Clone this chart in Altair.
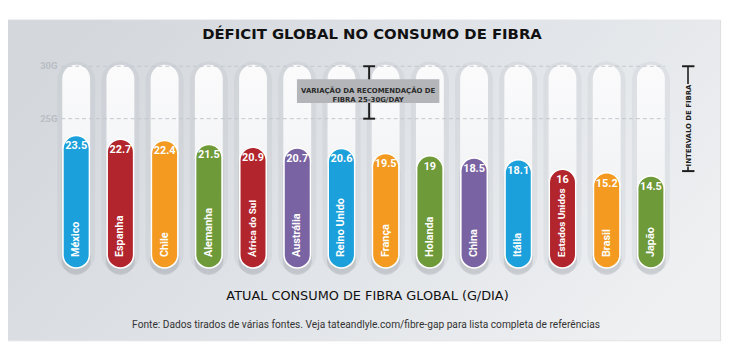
import altair as alt
import pandas as pd

# ---------------- data ----------------
countries = ["México", "Espanha", "Chile", "Alemanha", "África do Sul", "Austrália",
             "Reino Unido", "França", "Holanda", "China", "Itália", "Estados Unidos",
             "Brasil", "Japão"]
values = [23.5, 22.7, 22.4, 21.5, 20.9, 20.7, 20.6, 19.5, 19, 18.5, 18.1, 16, 15.2, 14.5]
palette = ["#1ba0db", "#b3252d", "#f49a20", "#6e9a3a", "#b3252d", "#7a63a3", "#1ba0db",
           "#f49a20", "#6e9a3a", "#7a63a3", "#1ba0db", "#b3252d", "#f49a20", "#6e9a3a"]

rec_levels = [30, 25]
rec_labels = ["30G", "25G"]
range_levels = [30, 20]

TITLE = "DÉFICIT GLOBAL NO CONSUMO DE FIBRA"
X_TITLE = "ATUAL CONSUMO DE FIBRA GLOBAL (G/DIA)"
SOURCE = "Fonte: Dados tirados de várias fontes. Veja tateandlyle.com/fibre-gap para lista completa de referências"
REC_NOTE = "VARIAÇÃO DA RECOMENDAÇÃO DE\nFIBRA 25-30G/DAY"
RANGE_NOTE = "INTERVALO DE FIBRA"

df = pd.DataFrame({"country": countries, "value": values})
grid_df = pd.DataFrame({"level": rec_levels, "label": rec_labels})
range_df = pd.DataFrame({"level": range_levels})
one = pd.DataFrame({"k": [0]})

W, H = 720, 324
bar_scale = alt.Scale(domain=[-22.09, 49.27], nice=False, zero=False)
grid_scale = alt.Scale(domain=[3.87, 34.43], nice=False, zero=False)
BAR_BASE = -6.0
GRID_BASE = 10.75
NARROW = "Roboto, sans-serif"

xaxis = alt.Axis(labels=False, ticks=False, domain=False, grid=False, title=X_TITLE,
                 titleY=-45, titleBaseline="middle", titleFont="DejaVu Sans",
                 titleFontSize=13, titleFontWeight="normal", titleColor="#111111",
                 titleX=363, zindex=1)
xscale = alt.Scale(domain=countries, range=[46.6, 672.4], paddingInner=0, paddingOuter=0)
xenc = alt.X("country:N", sort=countries, scale=xscale, axis=xaxis)


def xd(name):
    return alt.XDatum(name, type="nominal", scale=xscale, axis=xaxis)


bg_grad = alt.LinearGradient(gradient="linear", x1=0, x2=1, y1=0.3, y2=0.7,
                             stops=[alt.GradientStop(color="#d4d8dd", offset=0),
                                    alt.GradientStop(color="#e0e3e7", offset=0.5),
                                    alt.GradientStop(color="#eef0f2", offset=1)])
ghost_grad = alt.LinearGradient(gradient="linear", x1=0, x2=0, y1=0, y2=1,
                                stops=[alt.GradientStop(color="#fbfbfc", offset=0),
                                       alt.GradientStop(color="#f2f3f5", offset=0.6),
                                       alt.GradientStop(color="#e6e8eb", offset=1)])

background = alt.Chart(one).mark_rect(fill=bg_grad).encode(
    x=alt.value(0), x2=alt.value(W), y=alt.value(0), y2=alt.value(H))

base = alt.Chart(df)

ghost_shadow = base.mark_bar(width=alt.RelativeBandSize(0.86), cornerRadius=19,
                             color="#9ea4ac", opacity=0.13).encode(
    x=xenc, y=alt.YDatum(30.45, scale=grid_scale, axis=None), y2=alt.datum(GRID_BASE - 0.5))

ghost = base.mark_bar(width=alt.RelativeBandSize(0.63), cornerRadius=14, fill=ghost_grad).encode(
    x=xenc, y=alt.YDatum(30.15, scale=grid_scale, axis=None), y2=alt.datum(GRID_BASE))

grid = alt.Chart(grid_df).mark_rule(strokeDash=[4, 3], color="#c2c7cd", strokeWidth=1,
                                    xOffset=-15, x2Offset=14).encode(
    x=xd("México"), x2=alt.datum("Japão"),
    y=alt.Y("level:Q", scale=grid_scale, axis=None))

grid_text = alt.Chart(grid_df).mark_text(align="right", baseline="middle", dx=-19,
                                         font=NARROW, fontSize=9.5,
                                         fontWeight="bold", color="#b9bdc4").encode(
    x=xd("México"), y=alt.Y("level:Q", scale=grid_scale, axis=None),
    text="label:N")

bar_shadow = base.mark_bar(width=alt.RelativeBandSize(0.66), cornerRadius=15, color="#6f757e",
                           opacity=0.2, yOffset=3, y2Offset=7).encode(
    x=xenc, y=alt.Y("value:Q", scale=bar_scale, axis=None), y2=alt.datum(BAR_BASE))

bars = base.mark_bar(width=alt.RelativeBandSize(0.6), cornerRadius=13.5, stroke="white",
                     strokeWidth=1.6).encode(
    x=xenc, y=alt.Y("value:Q", scale=bar_scale, axis=None), y2=alt.datum(BAR_BASE),
    color=alt.Color("country:N", scale=alt.Scale(domain=countries, range=palette), legend=None))

value_text = base.mark_text(baseline="middle", dy=11, font=NARROW,
                            fontSize=11, fontWeight="bold", color="white").encode(
    x=xenc, y=alt.Y("value:Q", scale=bar_scale, axis=None),
    text=alt.Text("value:Q", format="~g"))

country_text = base.mark_text(angle=270, align="left", baseline="middle", dx=11,
                              font=NARROW, fontWeight="bold",
                              color="white").encode(
    x=xenc, y=alt.YDatum(BAR_BASE, scale=bar_scale, axis=None), text="country:N",
    size=alt.condition("length(datum.country) > 12", alt.value(10), alt.value(11)))

# recommendation bracket (25-30 g)
rec_line = alt.Chart(one).mark_rule(color="#1e1e1e", strokeWidth=2, xOffset=28).encode(
    x=xd("Reino Unido"),
    y=alt.YDatum(rec_levels[0], scale=grid_scale, axis=None), y2=alt.datum(rec_levels[1]))
rec_caps = alt.Chart(grid_df).mark_rule(color="#1e1e1e", strokeWidth=2, xOffset=22,
                                        x2Offset=34).encode(
    x=xd("Reino Unido"), x2=alt.datum("Reino Unido"),
    y=alt.Y("level:Q", scale=grid_scale, axis=None))
rec_box = alt.Chart(one).mark_bar(width=144, color="#b3b5b8", xOffset=27).encode(
    x=xd("Reino Unido"),
    y=alt.YDatum(28.75, scale=grid_scale, axis=None), y2=alt.datum(26.5))
rec_text = alt.Chart(one).mark_text(lineBreak="\n", lineHeight=9, baseline="middle",
                                    font="DejaVu Sans", fontSize=7, fontWeight="bold",
                                    color="#2a2a2a", xOffset=27).encode(
    x=xd("Reino Unido"),
    y=alt.YDatum(27.6, scale=grid_scale, axis=None), text=alt.value(REC_NOTE))

# fibre range bracket on the right
rng_top = alt.Chart(one).mark_rule(color="#1e1e1e", strokeWidth=1.6, xOffset=37.5).encode(
    x=xd("Japão"),
    y=alt.YDatum(range_levels[0], scale=grid_scale, axis=None), y2=alt.datum(28.3))
rng_bot = alt.Chart(one).mark_rule(color="#1e1e1e", strokeWidth=1.6, xOffset=37.5).encode(
    x=xd("Japão"),
    y=alt.YDatum(20.45, scale=grid_scale, axis=None), y2=alt.datum(range_levels[1]))
rng_caps = alt.Chart(range_df).mark_rule(color="#1e1e1e", strokeWidth=2, xOffset=31.5,
                                         x2Offset=44).encode(
    x=xd("Japão"), x2=alt.datum("Japão"),
    y=alt.Y("level:Q", scale=grid_scale, axis=None))
rng_text = alt.Chart(one).mark_text(angle=270, align="center", baseline="middle",
                                    font="DejaVu Sans", fontSize=7, fontWeight="bold",
                                    color="#1e1e1e", xOffset=38.5).encode(
    x=xd("Japão"),
    y=alt.YDatum(24.35, scale=grid_scale, axis=None), text=alt.value(RANGE_NOTE))

source = alt.Chart(one).mark_text(font=NARROW, fontSize=10.3, color="#333333",
                                  baseline="middle").encode(
    x=alt.value(362), y=alt.value(309), text=alt.value(SOURCE))

chart = alt.layer(
    background, ghost_shadow, ghost, grid, grid_text, bar_shadow, bars, value_text,
    country_text, rec_line, rec_caps, rec_box, rec_text, rng_top, rng_bot, rng_caps,
    rng_text, source
).resolve_scale(y="independent").properties(
    width=W, height=H,
    padding={"left": 0, "top": 10, "right": 9, "bottom": 12},
    autosize=alt.AutoSizeParams(type="none"),
    title=alt.Title(TITLE, font="DejaVu Sans", fontSize=15, fontWeight="bold", color="#111111",
                    anchor="middle", offset=0, dy=22, dx=8),
).configure_view(strokeWidth=0).configure(background="white")

chart.save("out.html", embed_options={"renderer": "svg", "actions": False})
